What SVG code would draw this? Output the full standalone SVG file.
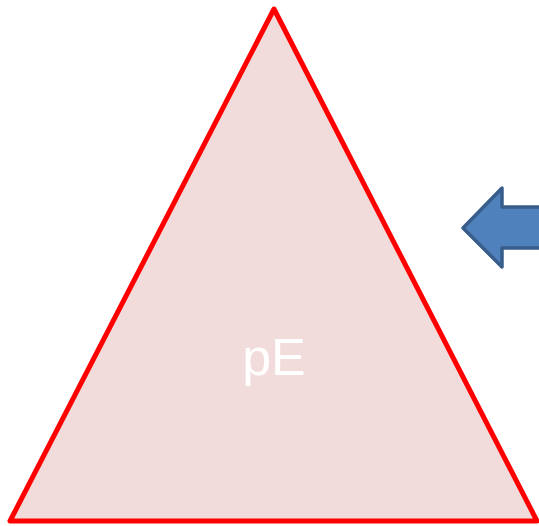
<svg xmlns="http://www.w3.org/2000/svg" width="539" height="526" viewBox="0 0 539 526">
<style>
.tri{fill:#F2DCDB;stroke:#FF0000;stroke-width:5;stroke-linejoin:round}
.arr{fill:#4F81BD;stroke:#385D8A;stroke-width:3.5;stroke-linejoin:round}
.lbl{fill:#FFFFFF;font-family:"Liberation Sans",Arial,sans-serif;font-size:52px}
</style>
<rect width="539" height="526" fill="#FFFFFF"/>
<g id="triangle">
<polygon class="tri" points="274,9 10,521 537,521"/>
<text class="lbl" x="274" y="375" text-anchor="middle">pE</text>
</g>
<g id="connectors">
<polygon class="arr" points="463,228 502,188 502,207 545,207 545,248 502,248 502,267"/>
</g>
</svg>
